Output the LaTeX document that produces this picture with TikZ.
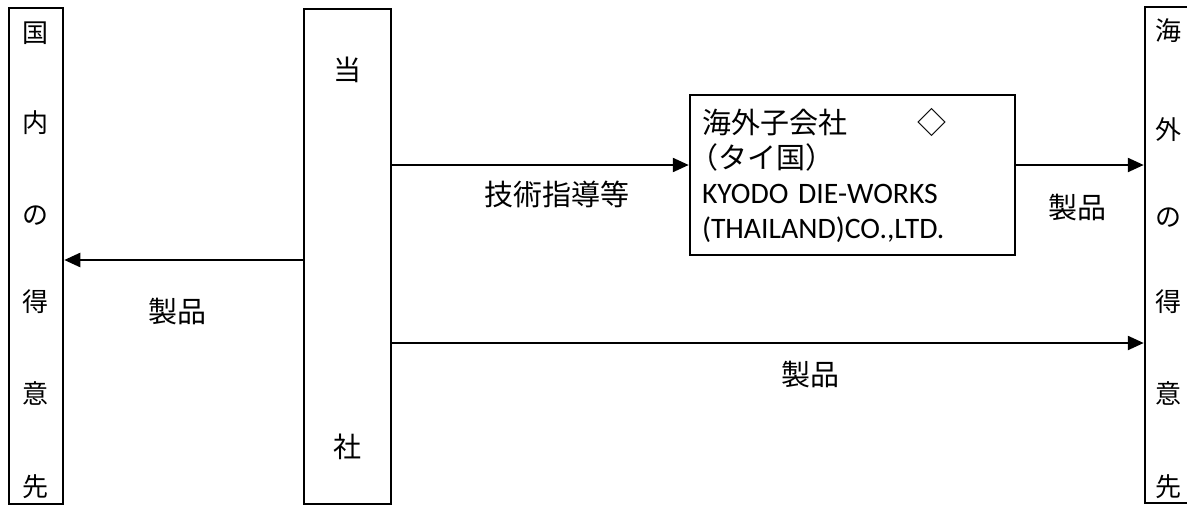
\documentclass[tikz,border=0pt]{standalone}
\usepackage{fontspec}
\setmainfont{Noto Sans CJK JP}
\newfontfamily\latfont{Carlito}
\usetikzlibrary{arrows.meta}
\begin{document}
\begin{tikzpicture}[x=1pt,y=-1pt,
  box/.style={draw,line width=2.5pt,inner sep=0pt},
  arr/.style={line width=2.4pt,-{Triangle[length=16pt,width=14pt]}},
  lab/.style={font=\fontsize{29}{29}\selectfont,inner sep=0pt},
  vch/.style={font=\fontsize{26}{26}\selectfont,inner sep=0pt},
  mch/.style={font=\fontsize{28}{28}\selectfont,inner sep=0pt}]
\useasboundingbox[fill=white] (0,0) rectangle (1187,506);
% boxes
\node[box,minimum width=54pt,minimum height=496pt] (L) at (36,256) {};
\node[box,minimum width=87pt,minimum height=495pt] (M) at (347.5,256.5) {};
\node[box,minimum width=48pt,minimum height=496pt] (R) at (1169,255) {};
\node[box,minimum width=325pt,minimum height=160pt,text width=301pt,align=left,
      font=\fontsize{29}{35}\selectfont] (S) at (852.5,175)
  {海外子会社\hspace{71pt}◇\\\leavevmode\hspace*{-13pt}（タイ国）\\{\latfont\fontsize{29.7}{35}\selectfont KYODO DIE-WORKS}\\{\latfont\fontsize{29.7}{35}\selectfont (THAILAND)CO.,LTD.}};
% vertical texts
\node[vch] (l1) at (36,33) {国};
\node[vch] (l2) at (36,123) {内};
\node[vch] (l3) at (36,216) {の};
\node[vch] (l4) at (36,302) {得};
\node[vch] (l5) at (36,393) {意};
\node[vch] (l6) at (36,487) {先};
\node[vch] (r1) at (1168,31) {海};
\node[vch] (r2) at (1168,130) {外};
\node[vch] (r3) at (1168,218) {の};
\node[vch] (r4) at (1168,302) {得};
\node[vch] (r5) at (1168,393) {意};
\node[vch] (r6) at (1168,487) {先};
\node[mch] (m1) at (347.5,70) {当};
\node[mch] (m2) at (347.5,447) {社};
% arrows
\draw[arr] (M.east |- 0,165) -- (S.west |- 0,165);
\draw[arr] (S.east |- 0,165) -- (R.west |- 0,165);
\draw[arr] (M.west |- 0,260) -- (L.east |- 0,260);
\draw[arr] (M.east |- 0,343) -- (R.west |- 0,343);
% labels
\node[lab] (t1) at (557,194) {技術指導等};
\node[lab] (t2) at (177,312) {製品};
\node[lab] (t3) at (810,375) {製品};
\node[lab] (t4) at (1077,208) {製品};
\end{tikzpicture}
\end{document}
